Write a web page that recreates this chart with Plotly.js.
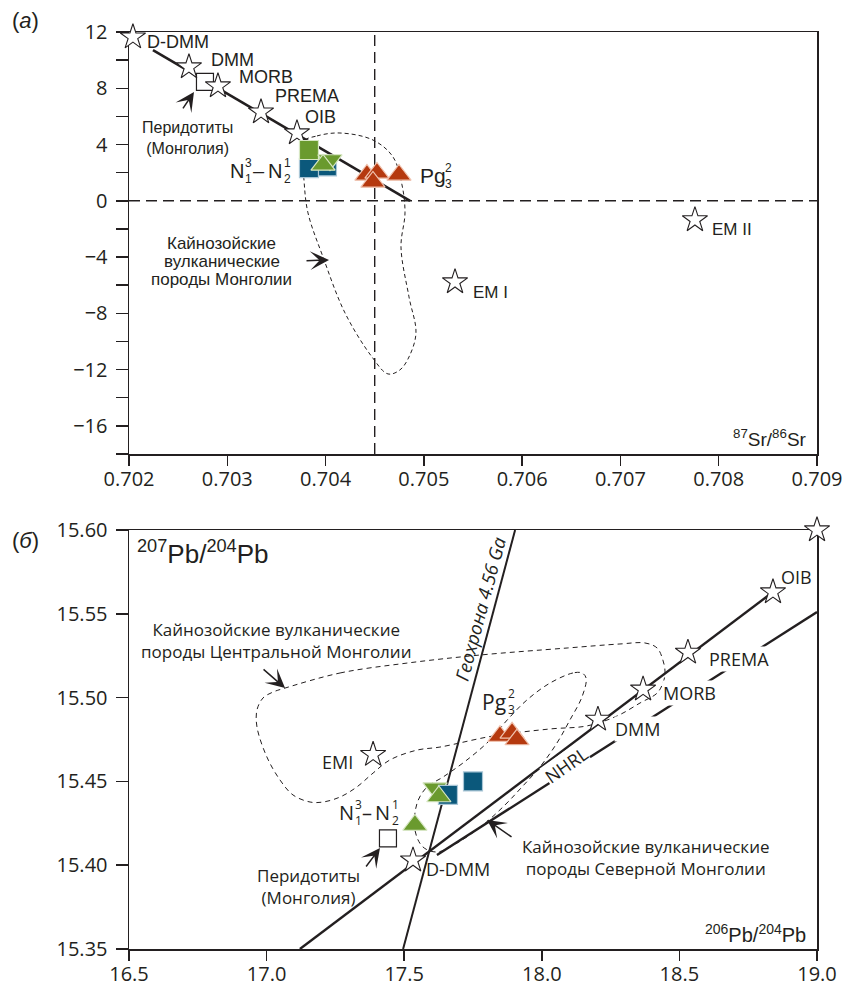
<!DOCTYPE html>
<html><head><meta charset="utf-8">
<script src="https://cdn.plot.ly/plotly-3.0.1.min.js"></script>
<style>body{margin:0;background:#fff}#chart{width:845px;height:992px}</style>
</head><body><div id="chart"></div>
<script>
// ---------- Panel (a): εNd vs 87Sr/86Sr ----------
const srTicks = [0.702, 0.703, 0.704, 0.705, 0.706, 0.707, 0.708, 0.709];
const ndTicks = [-16, -12, -8, -4, 0, 4, 8, 12];
const ndMinor = [-18, -14, -10, -6, -2, 2, 6, 10];

const srStarNames = ['D-DMM', 'DMM', 'MORB', 'PREMA', 'OIB', 'EM I', 'EM II'];
const srStarX = [0.70204, 0.70261, 0.702905, 0.703343, 0.703709, 0.705317, 0.707758];
const srStarY = [11.64, 9.51, 8.16, 6.31, 4.82, -5.77, -1.36];

const srPeridX = [0.702773];
const srPeridY = [8.45];

const srMixX = [0.702244, 0.70486];
const srMixY = [10.72, 0];
const srRefHX = [0.702, 0.709];
const srRefHY = [0, 0];
const srRefVX = [0.7045, 0.7045];
const srRefVY = [-18, 12];

const srFieldX = [0.7037703, 0.7039127, 0.7041467, 0.7044824, 0.7046859, 0.7047775, 0.704808, 0.7047673, 0.7048487, 0.7049199, 0.7048487, 0.7047571, 0.7046351, 0.7044723, 0.7041976, 0.7039737, 0.7038211, 0.7037804, 0.7037703];
const srFieldY = [4.18, 4.61, 4.82, 4.32, 3.12, 1.13, -0.86, -3.28, -6.83, -9.39, -11.10, -12.02, -12.31, -11.10, -7.97, -3.99, -0.86, 1.48, 4.18];

const srBlueSqX = [0.704014, 0.703831];
const srBlueSqY = [2.45, 2.33];
const srGreenSqX = [0.703831];
const srGreenSqY = [3.61];
const srGreenDownX = [0.704045];
const srGreenDownY = [2.90];
const srGreenUpX = [0.703974];
const srGreenUpY = [2.55];
const srRedTriX = [0.704421, 0.704523, 0.704482, 0.704747];
const srRedTriY = [1.84, 1.98, 1.34, 1.84];

// ---------- Panel (б): 207Pb/204Pb vs 206Pb/204Pb ----------
const pbXTicks = [16.5, 17.0, 17.5, 18.0, 18.5, 19.0];
const pbYTicks = [15.35, 15.40, 15.45, 15.50, 15.55, 15.60];

const pbStarNames = ['D-DMM', 'DMM', 'MORB', 'PREMA', 'OIB', 'EMI', 'EMII'];
const pbStarX = [17.532, 18.204, 18.368, 18.531, 18.840, 17.387, 19.0];
const pbStarY = [15.403, 15.487, 15.505, 15.527, 15.563, 15.466, 15.600];

const pbPeridX = [17.441];
const pbPeridY = [15.416];

const pbGeochronX = [17.496, 17.903];
const pbGeochronY = [15.35, 15.60];
const pbMantleX = [17.121, 18.840];
const pbMantleY = [15.35, 15.563];
const pbNhrlX = [17.619, 19.0];
const pbNhrlY = [15.4061, 15.5511];

const pbCentralX = [17.067, 17.267, 17.510, 17.775, 18.092, 18.284, 18.375, 18.419, 18.440, 18.448, 18.440, 18.419, 18.357, 18.273, 18.164, 18.030, 17.823, 17.630, 17.547, 17.448, 17.387, 17.328, 17.267, 17.205, 17.158, 17.096, 17.049, 17.001, 16.965, 16.965, 16.987, 17.023, 17.067];
const pbCentralY = [15.5057, 15.5147, 15.5206, 15.5254, 15.5296, 15.5320, 15.5326, 15.5296, 15.5224, 15.5147, 15.5087, 15.5027, 15.4968, 15.4890, 15.4831, 15.4813, 15.4771, 15.4705, 15.4687, 15.4628, 15.4550, 15.4467, 15.4407, 15.4377, 15.4377, 15.4419, 15.4508, 15.4646, 15.4825, 15.4926, 15.4998, 15.5033, 15.5057];

const pbNorthX = [18.146, 18.113, 18.030, 17.946, 17.874, 17.812, 17.728, 17.641, 17.583, 17.547, 17.539, 17.568, 17.619, 17.692, 17.786, 17.866, 17.928, 17.993, 18.055, 18.102, 18.146, 18.161, 18.146];
const pbNorthY = [15.5147, 15.5147, 15.5087, 15.4986, 15.4866, 15.4747, 15.4628, 15.4526, 15.4467, 15.4371, 15.4210, 15.4109, 15.4079, 15.4132, 15.4240, 15.4359, 15.4467, 15.4586, 15.4729, 15.4866, 15.5004, 15.5117, 15.5147];

const pbGreenDownX = [17.612];
const pbGreenDownY = [15.446];
const pbBlueSqX = [17.659, 17.750];
const pbBlueSqY = [15.442, 15.450];
const pbGreenUpX = [17.539, 17.626];
const pbGreenUpY = [15.424, 15.441];
const pbRedTriX = [17.848, 17.892, 17.910];
const pbRedTriY = [15.477, 15.479, 15.475];

// ---------- styles ----------
const INK = '#231f20';
const GREEN = '#6a9a2e', GREEN_E = '#d6e6c2';
const BLUE = '#0b587b', BLUE_E = '#a9c6d6';
const RED = '#b5390f', RED_E = '#f0c2ae';
const TF = 'Liberation Sans, Arial, sans-serif';
const BF = 'Open Sans, Liberation Sans, sans-serif';

function line(xa, ya, x, y, width, dash) {
  return {type: 'scatter', mode: 'lines', xaxis: xa, yaxis: ya, x: x, y: y,
          line: {color: INK, width: width, dash: dash || 'solid'}, hoverinfo: 'skip'};
}
function field(xa, ya, x, y, dash) {
  return {type: 'scatter', mode: 'lines', xaxis: xa, yaxis: ya, x: x, y: y,
          line: {color: INK, width: 1, dash: dash, shape: 'spline', smoothing: 1}, hoverinfo: 'skip'};
}
function pts(xa, ya, x, y, symbol, size, fill, edge, ew) {
  return {type: 'scatter', mode: 'markers', xaxis: xa, yaxis: ya, x: x, y: y, cliponaxis: false,
          marker: {symbol: symbol, size: size, color: fill, line: {color: edge, width: ew}}, hoverinfo: 'skip'};
}

const SQ = 19, TRI = 21, STAR = 19;
const traces = [
  // panel a
  line('x', 'y', srRefHX, srRefHY, 1.4, '11px,6px'),
  line('x', 'y', srRefVX, srRefVY, 1.4, '11px,6px'),
  line('x', 'y', srMixX, srMixY, 2.6),
  field('x', 'y', srFieldX, srFieldY, '4px,3px'),
  pts('x', 'y', srPeridX, srPeridY, 'square', 17, 'white', INK, 1.2),
  pts('x', 'y', srStarX, srStarY, 'star', STAR, 'white', INK, 1.1),
  pts('x', 'y', srBlueSqX, srBlueSqY, 'square', SQ, BLUE, BLUE_E, 1.2),
  pts('x', 'y', srGreenSqX, srGreenSqY, 'square', SQ, GREEN, GREEN_E, 1.2),
  pts('x', 'y', srGreenDownX, srGreenDownY, 'triangle-down', TRI, GREEN, GREEN_E, 1.2),
  pts('x', 'y', srGreenUpX, srGreenUpY, 'triangle-up', TRI, GREEN, GREEN_E, 1.2),
  pts('x', 'y', srRedTriX, srRedTriY, 'triangle-up', TRI, RED, RED_E, 1.2),
  // panel б
  line('x2', 'y2', pbGeochronX, pbGeochronY, 2),
  line('x2', 'y2', pbMantleX, pbMantleY, 2.4),
  line('x2', 'y2', pbNhrlX, pbNhrlY, 2.4),
  field('x2', 'y2', pbCentralX, pbCentralY, '5px,4px'),
  field('x2', 'y2', pbNorthX, pbNorthY, '5px,4px'),
  pts('x2', 'y2', pbPeridX, pbPeridY, 'square', 17, 'white', INK, 1.2),
  pts('x2', 'y2', pbStarX, pbStarY, 'star', STAR, 'white', INK, 1.1),
  pts('x2', 'y2', pbGreenDownX, pbGreenDownY, 'triangle-down', TRI, GREEN, GREEN_E, 1.2),
  pts('x2', 'y2', pbBlueSqX, pbBlueSqY, 'square', SQ, BLUE, BLUE_E, 1.2),
  pts('x2', 'y2', pbGreenUpX, pbGreenUpY, 'triangle-up', TRI, GREEN, GREEN_E, 1.2),
  pts('x2', 'y2', pbRedTriX, pbRedTriY, 'triangle-up', TRI, RED, RED_E, 1.2)
];

function txt(xr, yr, x, y, text, size, fam, extra) {
  return Object.assign({xref: xr, yref: yr, x: x, y: y, text: text, showarrow: false,
    font: {family: fam, size: size, color: INK}, xanchor: 'center', yanchor: 'middle'}, extra || {});
}
function arrow(xr, yr, x, y, ax, ay) {
  return {xref: xr, yref: yr, x: x, y: y, ax: ax, ay: ay, text: '', showarrow: true,
    arrowhead: 3, arrowsize: 2.1, arrowwidth: 1.5, arrowcolor: INK, standoff: 0};
}
const L = {xanchor: 'left'};
const W = {bgcolor: 'white', borderpad: 0};

const annotations = [
  txt('paper', 'paper', -0.151, 1.013, '(<i>а</i>)', 22, TF),
  txt('paper', 'paper', -0.151, 0.446, '(<i>б</i>)', 22, TF),
  // panel a labels
  txt('x', 'y', 0.702326, 13.0, 'εNd', 20, TF),
  txt('x', 'y', 0.702499, 11.29, srStarNames[0], 18, TF),
  txt('x', 'y', 0.703048, 10.01, srStarNames[1], 18, TF),
  txt('x', 'y', 0.703394, 8.80, srStarNames[2], 18, TF),
  txt('x', 'y', 0.703811, 7.45, srStarNames[3], 18, TF),
  txt('x', 'y', 0.703953, 5.96, srStarNames[4], 18, TF),
  txt('x', 'y', 0.705673, -6.55, srStarNames[5], 17, TF),
  txt('x', 'y', 0.708135, -2.07, srStarNames[6], 17, TF),
  txt('x', 'y', 0.702600, 4.47, 'Перидотиты<br>(Монголия)', 16, TF),
  txt('x', 'y', 0.702946, -3.07, 'Кайнозойские', 17, TF),
  txt('x', 'y', 0.702946, -4.35, 'вулканические', 17, TF),
  txt('x', 'y', 0.702946, -5.60, 'породы Монголии', 17, TF),
  txt('x', 'y', 0.708522, -16.86, '<sup>87</sup>Sr/<sup>86</sup>Sr', 19, TF),
  txt('x', 'y', 0.703007, 2.12, 'N', 20, TF, L),
  txt('x', 'y', 0.703007, 2.12, '3<br>1', 12, TF, Object.assign({xshift: 15}, L)),
  txt('x', 'y', 0.703007, 2.12, '–', 20, TF, Object.assign({xshift: 23}, L)),
  txt('x', 'y', 0.703007, 2.12, 'N', 20, TF, Object.assign({xshift: 38}, L)),
  txt('x', 'y', 0.703007, 2.12, '1<br>2', 12, TF, Object.assign({xshift: 54}, L)),
  txt('x', 'y', 0.704940, 1.77, 'Pg', 21, TF, L),
  txt('x', 'y', 0.704940, 1.77, '2<br>3', 12, TF, Object.assign({xshift: 25}, L)),
  arrow('x', 'y', 0.702661, 7.74, -12, 18),
  arrow('x', 'y', 0.704035, -4.20, -24, 1),
  // panel б labels
  txt('x2', 'y2', 16.769, 15.5863, '<sup>207</sup>Pb/<sup>204</sup>Pb', 26, TF),
  txt('x2', 'y2', 17.034, 15.5340, 'Кайнозойские вулканические<br>породы Центральной Монголии', 17, BF),
  txt('x2', 'y2', 17.776, 15.553, '<i>Геохрона 4.56 Ga</i>', 18.5, BF, {textangle: -75}),
  txt('x2', 'y2', 17.775, 15.4974, 'Pg', 21, BF, L),
  txt('x2', 'y2', 17.775, 15.4974, '2<br>3', 12, BF, Object.assign({xshift: 26}, L)),
  txt('x2', 'y2', 17.259, 15.4616, pbStarNames[5], 18, BF),
  txt('x2', 'y2', 17.256, 15.4317, 'N', 20, BF, L),
  txt('x2', 'y2', 17.256, 15.4317, '3<br>1', 12, BF, Object.assign({xshift: 16}, L)),
  txt('x2', 'y2', 17.256, 15.4317, '–', 20, BF, Object.assign({xshift: 23}, L)),
  txt('x2', 'y2', 17.256, 15.4317, 'N', 20, BF, Object.assign({xshift: 36}, L)),
  txt('x2', 'y2', 17.256, 15.4317, '1<br>2', 12, BF, Object.assign({xshift: 53}, L)),
  txt('x2', 'y2', 17.154, 15.3873, 'Перидотиты<br>(Монголия)', 17, BF),
  txt('x2', 'y2', 17.696, 15.3977, pbStarNames[0], 18, BF),
  txt('x2', 'y2', 18.090, 15.4595, 'NHRL', 18, BF, Object.assign({textangle: -35}, W)),
  txt('x2', 'y2', 18.346, 15.4813, pbStarNames[1], 18, BF, W),
  txt('x2', 'y2', 18.535, 15.5027, pbStarNames[2], 18, BF, W),
  txt('x2', 'y2', 18.717, 15.5230, pbStarNames[3], 18, BF, W),
  txt('x2', 'y2', 18.924, 15.5720, pbStarNames[4], 18, BF),
  txt('x2', 'y2', 18.887, 15.6101, pbStarNames[6], 18, BF),
  txt('x2', 'y2', 18.379, 15.4046, 'Кайнозойские вулканические<br>породы Северной Монголии', 17, BF),
  txt('x2', 'y2', 18.775, 15.3595, '<sup>206</sup>Pb/<sup>204</sup>Pb', 20, TF),
  arrow('x2', 'y2', 17.067, 15.5057, -23, -20),
  arrow('x2', 'y2', 17.412, 15.4103, -15, 20),
  arrow('x2', 'y2', 17.801, 15.4270, 26, 18)
];

const axBase = {showline: true, linecolor: INK, linewidth: 1.5, mirror: true, ticks: 'outside',
  tickcolor: INK, tickwidth: 1.5, showgrid: false, zeroline: false, layer: 'below traces',
  tickfont: {family: BF, size: 20, color: INK}, tickmode: 'array'};

const layout = {
  width: 845, height: 992,
  margin: {l: 129, r: 28, t: 32, b: 43},
  paper_bgcolor: 'white', plot_bgcolor: 'white',
  showlegend: false,
  xaxis: Object.assign({}, axBase, {domain: [0, 1], anchor: 'y', range: [0.702, 0.709],
    tickvals: srTicks, ticktext: srTicks.map(v => v.toFixed(3)), ticklen: 10, ticklabelstandoff: -4}),
  yaxis: Object.assign({}, axBase, {domain: [0.5398, 1], anchor: 'x', range: [-18, 12],
    tickvals: ndTicks, ticklen: 12, ticklabelstandoff: 4,
    minor: {tickmode: 'array', tickvals: ndMinor, ticks: 'outside', ticklen: 12, tickwidth: 1.5, tickcolor: INK, showgrid: false}}),
  xaxis2: Object.assign({}, axBase, {domain: [0, 1], anchor: 'y2', range: [16.5, 19.0],
    tickvals: pbXTicks, ticktext: pbXTicks.map(v => v.toFixed(1)), ticklen: 10, ticklabelstandoff: -4}),
  yaxis2: Object.assign({}, axBase, {domain: [0, 0.4569], anchor: 'x2', range: [15.35, 15.60],
    tickvals: pbYTicks, ticktext: pbYTicks.map(v => v.toFixed(2)), ticklen: 12, ticklabelstandoff: 4}),
  annotations: annotations
};

Plotly.newPlot('chart', traces, layout, {staticPlot: true, displayModeBar: false});
</script>
</body></html>
